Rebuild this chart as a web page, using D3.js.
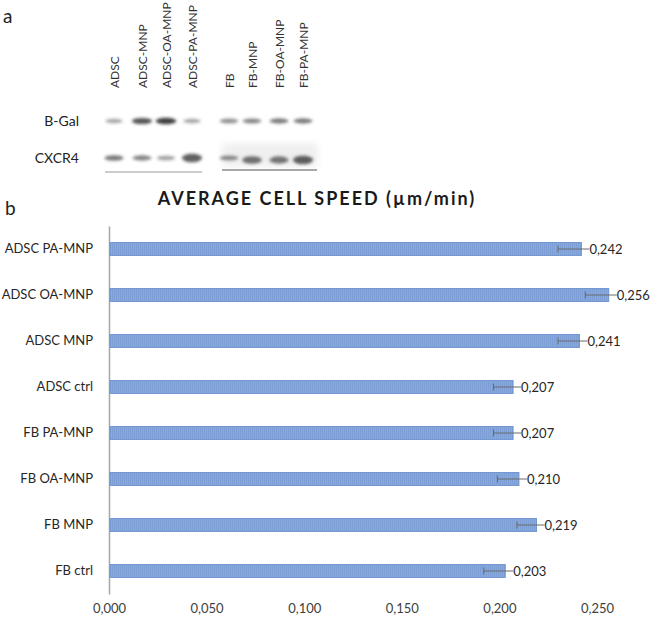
<!DOCTYPE html>
<html>
<head>
<meta charset="utf-8">
<script src="https://cdn.jsdelivr.net/npm/d3@7"></script>
<style>
  body { margin: 0; background: #fff; }
  text { font-family: Lato, "Open Sans", sans-serif; }
</style>
</head>
<body>
<svg id="chart" width="650" height="620"></svg>
<script>
// ---------- Data ----------
const categories = ["ADSC PA-MNP", "ADSC OA-MNP", "ADSC MNP", "ADSC ctrl",
                    "FB PA-MNP", "FB OA-MNP", "FB MNP", "FB ctrl"];
const speeds = [0.242, 0.256, 0.241, 0.207, 0.207, 0.210, 0.219, 0.203];
const errors = [0.012, 0.012, 0.011, 0.010, 0.010, 0.011, 0.010, 0.011];
const xTicks = [0, 0.05, 0.10, 0.15, 0.20, 0.25];

const laneLabels = ["ADSC", "ADSC-MNP", "ADSC-OA-MNP", "ADSC-PA-MNP",
                    "FB", "FB-MNP", "FB-OA-MNP", "FB-PA-MNP"];
const blotRows = ["B-Gal", "CXCR4"];
const bGalIntensity = [0.45, 0.85, 0.95, 0.45, 0.55, 0.6, 0.65, 0.65];
const cxcr4Intensity = [0.7, 0.65, 0.5, 0.85, 0.6, 0.75, 0.7, 0.85];

const svg = d3.select("#chart");
const fmt = v => d3.format(".3f")(v).replace(".", ",");

// ---------- Panel a: western blot ----------
svg.append("text").attr("x", 3).attr("y", 23).attr("font-size", 19)
   .attr("fill", "#222").text("a");

const defs = svg.append("defs");
defs.append("filter").attr("id", "blur").attr("x", "-50%").attr("y", "-100%")
    .attr("width", "200%").attr("height", "300%")
  .append("feGaussianBlur").attr("stdDeviation", 1.6);
defs.append("filter").attr("id", "blur2").attr("x", "-50%").attr("y", "-100%")
    .attr("width", "200%").attr("height", "300%")
  .append("feGaussianBlur").attr("stdDeviation", 3.5);
const pat = defs.append("pattern").attr("id", "hatch").attr("patternUnits", "userSpaceOnUse")
   .attr("width", 2).attr("height", 4);
pat.append("rect").attr("width", 2).attr("height", 4).attr("fill", "#87a9dd");
pat.append("rect").attr("width", 1).attr("height", 4).attr("fill", "#7d9fd6");

const lanePos = [114, 142, 166, 192, 229, 252, 279, 303];
const laneCenter = name => lanePos[laneLabels.indexOf(name)];
const rowY = d3.scalePoint().domain(blotRows).range([121, 158]);

svg.append("g").selectAll("text").data(laneLabels).join("text")
   .attr("transform", d => `translate(${laneCenter(d) + 4.5},88) rotate(-90)`)
   .attr("font-size", 12).attr("fill", "#333").text(d => d);

svg.append("g").selectAll("text").data(blotRows).join("text")
   .attr("x", 79).attr("y", d => rowY(d) + 5)
   .attr("text-anchor", "end").attr("font-size", 14).attr("fill", "#222")
   .text(d => d);

// faint background smear on right CXCR4 area
svg.append("rect").attr("x", 222).attr("y", 143).attr("width", 96).attr("height", 24)
   .attr("fill", "#000").attr("opacity", 0.06).attr("filter", "url(#blur2)");

const bandG = svg.append("g").attr("filter", "url(#blur)");
bandG.selectAll(".bgal").data(bGalIntensity).join("ellipse")
   .attr("cx", (d, i) => lanePos[i])
   .attr("cy", rowY("B-Gal"))
   .attr("rx", (d, i) => 7.5 + d * 3)
   .attr("ry", d => 1.2 + d * 2.2)
   .attr("fill", "#222").attr("opacity", d => d * 0.9);
bandG.selectAll(".cx").data(cxcr4Intensity).join("ellipse")
   .attr("cx", (d, i) => lanePos[i])
   .attr("cy", (d, i) => rowY("CXCR4") + (i >= 5 ? 2 : 0))
   .attr("rx", (d, i) => 7.5 + d * 3)
   .attr("ry", (d, i) => 1.2 + d * (i >= 5 || i === 3 ? 3.5 : 2.2))
   .attr("fill", "#222").attr("opacity", d => d * 0.85);

svg.append("line").attr("x1", 105).attr("x2", 202).attr("y1", 172).attr("y2", 172)
   .attr("stroke", "#9a9a9a").attr("stroke-width", 1);
svg.append("line").attr("x1", 222).attr("x2", 317).attr("y1", 170).attr("y2", 170)
   .attr("stroke", "#555").attr("stroke-width", 1);

// ---------- Panel b: bar chart ----------
svg.append("text").attr("x", 5).attr("y", 215).attr("font-size", 19)
   .attr("fill", "#222").text("b");

svg.append("text").attr("x", 317).attr("y", 205).attr("text-anchor", "middle")
   .attr("font-size", 18).attr("font-weight", "bold").attr("letter-spacing", 2)
   .attr("fill", "#1a1a1a").text("AVERAGE CELL SPEED (\u00b5m/min)");

const x = d3.scaleLinear().domain([0, 0.25]).range([109, 597]);
const y = d3.scaleBand().domain(categories).range([226, 594]).paddingInner(0.72).paddingOuter(0.36);

// x axis labels
const xAxis = d3.axisBottom(x).tickValues(xTicks).tickSize(0).tickPadding(0)
   .tickFormat(fmt);
const gx = svg.append("g").attr("transform", "translate(0,604)").call(xAxis);
gx.select(".domain").remove();
gx.selectAll("text").attr("font-size", 13).attr("fill", "#404040")
   .attr("font-family", "Lato, sans-serif");

// y axis
const yAxis = d3.axisLeft(y).tickSize(0).tickPadding(16);
const gy = svg.append("g").attr("transform", `translate(${x(0)},0)`).call(yAxis);
gy.select(".domain").attr("stroke", "#a6a6a6").attr("stroke-width", 1.5);
gy.selectAll("text").attr("font-size", 13).attr("fill", "#262626")
   .attr("font-family", "Lato, sans-serif");

// bars
svg.append("g").selectAll("rect").data(speeds).join("rect")
   .attr("x", x(0) + 1)
   .attr("y", (d, i) => y(categories[i]))
   .attr("width", d => x(d) - x(0) - 1)
   .attr("height", y.bandwidth())
   .attr("fill", "url(#hatch)").attr("stroke", "#6f95d0").attr("stroke-width", 1);

// error bars
const eg = svg.append("g").attr("stroke", "#6b6b6b").attr("stroke-width", 1);
speeds.forEach((v, i) => {
  const cy = y(categories[i]) + y.bandwidth() / 2;
  eg.append("line").attr("x1", x(v - errors[i])).attr("x2", x(v + errors[i]))
    .attr("y1", cy).attr("y2", cy);
  eg.append("line").attr("x1", x(v - errors[i])).attr("x2", x(v - errors[i]))
    .attr("y1", cy - 3.5).attr("y2", cy + 3.5);
});

// value labels with white background
const lg = svg.append("g");
speeds.forEach((v, i) => {
  const cy = y(categories[i]) + y.bandwidth() / 2;
  lg.append("rect").attr("x", x(v) + 8).attr("y", cy - 7).attr("width", 36).attr("height", 14)
    .attr("fill", "#fff");
  lg.append("text").attr("x", x(v) + 8).attr("y", cy + 4.5)
    .attr("font-size", 13).attr("fill", "#262626").text(fmt(v));
});
</script>
</body>
</html>
